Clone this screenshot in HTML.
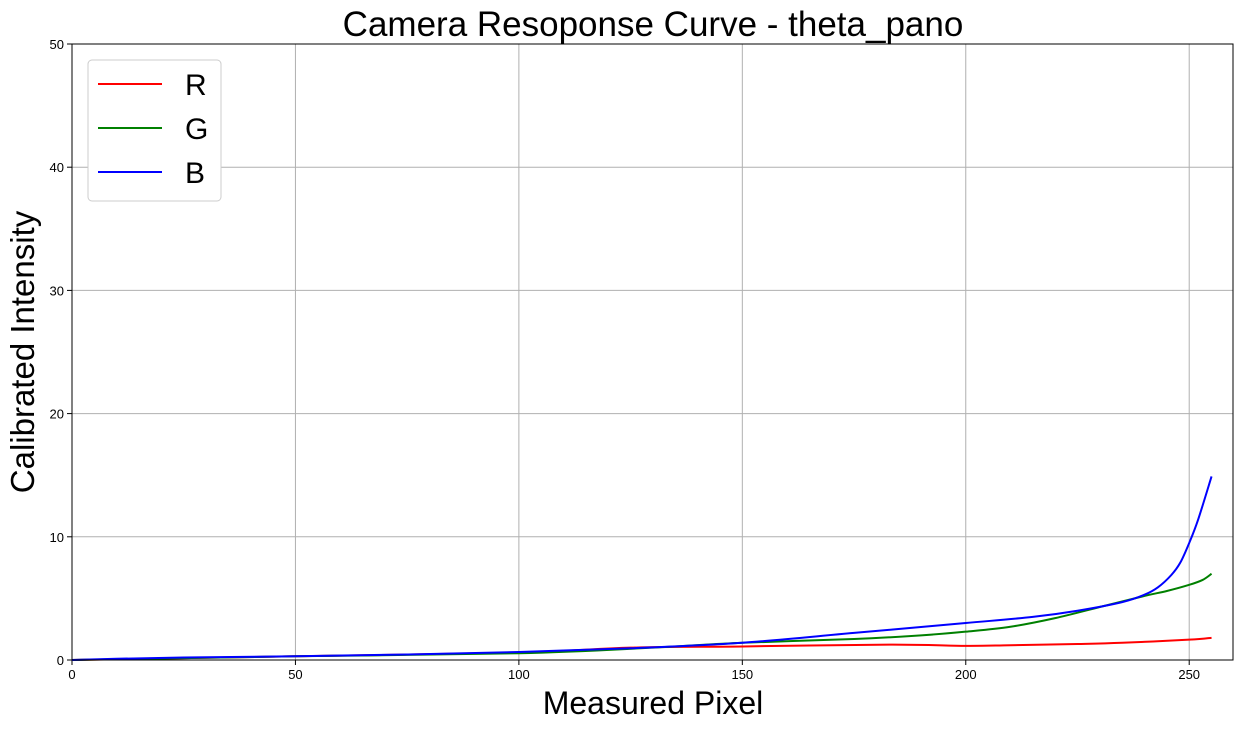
<!DOCTYPE html>
<html><head><meta charset="utf-8"><style>
body{margin:0;background:#fff;width:1244px;height:728px;overflow:hidden;font-family:"Liberation Sans",sans-serif}
</style></head><body>
<svg id="c" width="1244" height="728" font-family="Liberation Sans, sans-serif"></svg>
<script>
const xs=[0,10,25,50,75,100,125,150,175,200,215,225,235,240,243,246,248,250,252,255];
const bVals=[0,0.1,0.2,0.3,0.45,0.65,0.95,1.4,2.2,3.0,3.5,4.0,4.7,5.3,5.9,6.9,7.9,9.5,11.4,14.9];
const gX=[0,50,100,130,150,175,190,200,210,220,230,240,245,250,253,255];
const gVals=[0,0.3,0.55,1.0,1.4,1.7,2.0,2.3,2.7,3.4,4.3,5.2,5.6,6.1,6.5,7.0];
const rX=[0,50,100,125,150,183,200,210,225,235,250,255];
const rVals=[0,0.3,0.6,1.0,1.1,1.25,1.15,1.2,1.3,1.4,1.65,1.8];
const xTicks=[0,50,100,150,200,250];
const yTicks=[0,10,20,30,40,50];
const L=72,R=1233,T=44,B=660,XMAX=259.8,YMAX=50;
const sx=v=>L+v/XMAX*(R-L), sy=v=>B-v/YMAX*(B-T);
const svg=document.getElementById('c');const NS='http://www.w3.org/2000/svg';
function mk(t,a,p){const e=document.createElementNS(NS,t);for(const k in a)e.setAttribute(k,a[k]);(p||svg).appendChild(e);return e;}
xTicks.forEach(t=>{
const g=mk('line',{x1:sx(t),x2:sx(t),y1:T,y2:B,stroke:'#b0b0b0','stroke-width':1});


mk('line',{x1:sx(t),x2:sx(t),y1:B,y2:B+5,stroke:'#000'});
const l=mk('text',{x:sx(t),y:B+19,'text-anchor':'middle','font-size':13});l.textContent=t;


});
yTicks.forEach(t=>{
const g=mk('line',{x1:L,x2:R,y1:sy(t),y2:sy(t),stroke:'#b0b0b0','stroke-width':1});


mk('line',{x1:L-5,x2:L,y1:sy(t),y2:sy(t),stroke:'#000'});
const l=mk('text',{x:L-8,y:sy(t)+5,'text-anchor':'end','font-size':13});l.textContent=t;


});
function path(X,Y){const p=X.map((x,i)=>[sx(x),sy(Y[i])]);let d='M'+p[0][0]+','+p[0][1];
for(let i=0;i<p.length-1;i++){const p0=p[Math.max(0,i-1)],p1=p[i],p2=p[i+1],p3=p[Math.min(p.length-1,i+2)];
d+=' C'+(p1[0]+(p2[0]-p0[0])/6)+','+(p1[1]+(p2[1]-p0[1])/6)+' '+(p2[0]-(p3[0]-p1[0])/6)+','+(p2[1]-(p3[1]-p1[1])/6)+' '+p2[0]+','+p2[1];}return d;}
const r=mk('path',{d:path(rX,rVals),fill:'none',stroke:'#ff0000','stroke-width':2});


const g=mk('path',{d:path(gX,gVals),fill:'none',stroke:'#008000','stroke-width':2});


const b=mk('path',{d:path(xs,bVals),fill:'none',stroke:'#0000ff','stroke-width':2});


const fr=mk('rect',{x:L,y:T,width:R-L,height:B-T,fill:'none',stroke:'#000','stroke-width':1});


const ti=mk('text',{x:653,y:36,'text-anchor':'middle','font-size':35});ti.textContent='Camera Resoponse Curve - theta_pano';


const xl=mk('text',{x:653,y:714,'text-anchor':'middle','font-size':32});xl.textContent='Measured Pixel';


const yl=mk('text',{x:0,y:0,'text-anchor':'middle','font-size':33,transform:'translate(34,352) rotate(-90)'});yl.textContent='Calibrated Intensity';


const lg=mk('rect',{x:88,y:60,width:133,height:141,rx:4,fill:'#fff',stroke:'#ccc','stroke-width':1});


[['R','#ff0000',84],['G','#008000',128],['B','#0000ff',172]].forEach(([n,c,y])=>{
mk('line',{x1:98,x2:162,y1:y,y2:y,stroke:c,'stroke-width':2});
const t=mk('text',{x:185,y:y+11,'font-size':30});t.textContent=n;


});
</script>
</body></html>
